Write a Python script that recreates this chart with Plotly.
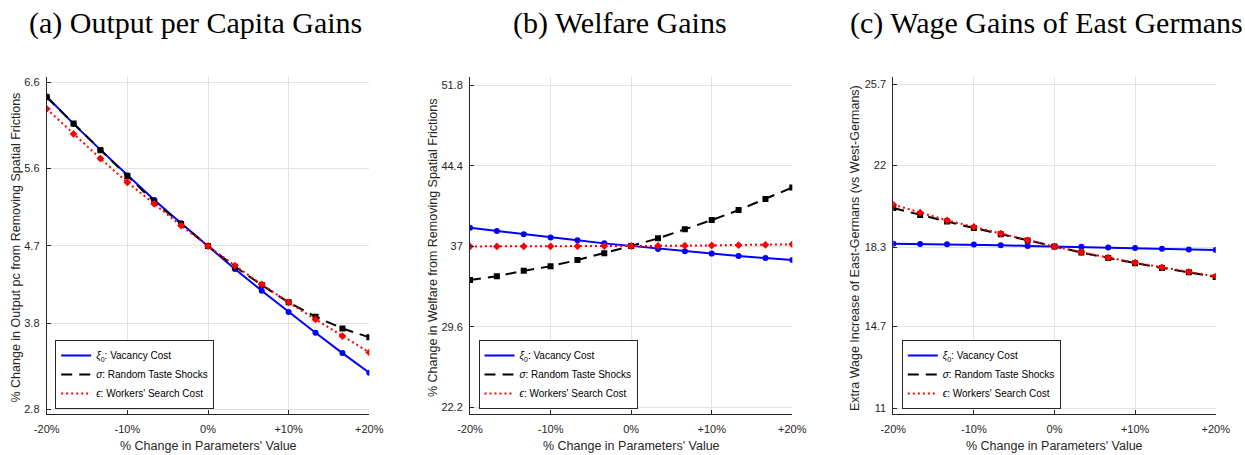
import plotly.graph_objects as go

# Parameter perturbations (% change in parameter value)
pct_change = [-20, -16.667, -13.333, -10, -6.667, -3.333, 0, 3.333, 6.667, 10, 13.333, 16.667, 20]

# (a) Output per capita gains
output_xi0 = [6.437, 6.119, 5.817, 5.522, 5.235, 4.964, 4.70, 4.432, 4.180, 3.932, 3.692, 3.455, 3.227]
output_sigma = [6.429, 6.123, 5.813, 5.514, 5.216, 4.956, 4.70, 4.460, 4.246, 4.045, 3.878, 3.742, 3.638]
output_eps = [6.294, 6.003, 5.716, 5.441, 5.189, 4.937, 4.70, 4.471, 4.254, 4.045, 3.847, 3.653, 3.463]

# (b) Welfare gains
welfare_xi0 = [38.71, 38.41, 38.11, 37.80, 37.55, 37.27, 37.03, 36.76, 36.54, 36.33, 36.11, 35.93, 35.74]
welfare_sigma = [33.91, 34.25, 34.74, 35.17, 35.74, 36.36, 37.03, 37.73, 38.56, 39.41, 40.33, 41.34, 42.41]
welfare_eps = [36.99, 36.99, 37.00, 37.00, 37.01, 37.02, 37.03, 37.04, 37.06, 37.08, 37.10, 37.14, 37.18]

# (c) Wage gains of East Germans
wage_xi0 = [18.46, 18.45, 18.43, 18.42, 18.39, 18.36, 18.33, 18.32, 18.29, 18.26, 18.23, 18.20, 18.17]
wage_sigma = [20.08, 19.76, 19.46, 19.17, 18.89, 18.60, 18.33, 18.06, 17.81, 17.57, 17.36, 17.16, 16.95]
wage_eps = [20.23, 19.87, 19.52, 19.22, 18.92, 18.61, 18.33, 18.07, 17.83, 17.60, 17.39, 17.18, 16.98]

x_tickvals = [-20, -10, 0, 10, 20]
x_ticktext = ["-20%", "-10%", "0%", "+10%", "+20%"]

y_ticks_a = [2.8, 3.8, 4.7, 5.6, 6.6]
y_ticks_b = [22.2, 29.6, 37, 44.4, 51.8]
y_ticks_c = [11, 14.7, 18.3, 22, 25.7]

panel_titles = ["(a) Output per Capita Gains", "(b) Welfare Gains", "(c) Wage Gains of East Germans"]
y_titles = [
    "% Change in Output pc from Removing Spatial Frictions",
    "% Change in Welfare from Removing Spatial Frictions",
    "Extra Wage Increase of East-Germans (vs West-Germans)",
]
x_title = "% Change in Parameters' Value"
series_names = [
    "<i>ξ</i><sub>0</sub>: Vacancy Cost",
    "<i>σ</i>: Random Taste Shocks",
    "<i>ϵ</i>: Workers' Search Cost",
]

W, H = 1245, 455


def fx(p):
    return p / W


def fy(p):
    return 1 - p / H


INK = "#262626"
GRID = "#e3e3e3"
SANS = "Liberation Sans, Arial, sans-serif"
SERIF = "Liberation Serif, Times New Roman, serif"

styles = [
    dict(color="#0000ff", dash="solid", symbol="circle", msize=6),
    dict(color="#000000", dash="11px,7px", symbol="square", msize=6),
    dict(color="#ff0000", dash="2px,3px", symbol="diamond", msize=6),
]

panels = [
    dict(series=[output_xi0, output_sigma, output_eps], yticks=y_ticks_a, yrange=[2.753, 6.67],
         left=46.7, right=369.3),
    dict(series=[welfare_xi0, welfare_sigma, welfare_eps], yticks=y_ticks_b, yrange=[21.62, 52.62],
         left=470.0, right=792.3),
    dict(series=[wage_xi0, wage_sigma, wage_eps], yticks=y_ticks_c, yrange=[10.76, 26.04],
         left=893.3, right=1215.7),
]

plot_top, plot_bottom = 76.5, 413.5

fig = go.Figure()
annotations = []
layout_axes = {}

for i, p in enumerate(panels):
    k = "" if i == 0 else str(i + 1)
    xa, ya = "x" + k, "y" + k
    legend_name = "legend" if i == 0 else "legend" + str(i + 1)

    for vals, st in zip(p["series"], styles):
        fig.add_trace(go.Scatter(
            x=pct_change, y=vals, mode="lines+markers", xaxis=xa, yaxis=ya,
            line=dict(color=st["color"], width=2, dash=st["dash"]),
            marker=dict(symbol=st["symbol"], size=st["msize"], color=st["color"]),
            showlegend=False, hoverinfo="x+y",
        ))
    # legend entries show the line style only
    for name, st in zip(series_names, styles):
        fig.add_trace(go.Scatter(
            x=[None], y=[None], mode="lines", xaxis=xa, yaxis=ya, name=name,
            line=dict(color=st["color"], width=2, dash=st["dash"]),
            legend=legend_name, showlegend=True,
        ))

    layout_axes["xaxis" + k] = dict(
        domain=[fx(p["left"]), fx(p["right"])], anchor=ya, range=[-20, 20],
        tickmode="array", tickvals=x_tickvals, ticktext=x_ticktext,
        showgrid=True, gridcolor=GRID, gridwidth=1, zeroline=False,
        showline=True, linecolor=INK, linewidth=1, ticks="inside", ticklen=4,
        tickcolor=INK, tickfont=dict(family=SANS, size=11, color=INK),
        ticklabelstandoff=5, automargin=False,
    )
    layout_axes["yaxis" + k] = dict(
        domain=[fy(plot_bottom), fy(plot_top)], anchor=xa, range=p["yrange"],
        tickmode="array", tickvals=p["yticks"], ticktext=[f"{v:g}" for v in p["yticks"]],
        showgrid=True, gridcolor=GRID, gridwidth=1, zeroline=False,
        showline=True, linecolor=INK, linewidth=1, ticks="inside", ticklen=4,
        tickcolor=INK, tickfont=dict(family=SANS, size=11, color=INK),
        ticklabelstandoff=4, automargin=False,
    )
    layout_axes[legend_name] = dict(
        x=fx(p["left"] + 8.5), y=fy(409), xanchor="left", yanchor="bottom",
        bgcolor="white", bordercolor=INK, borderwidth=1,
        font=dict(family=SANS, size=10, color="#000000"),
        tracegroupgap=0, itemwidth=30,
    )

title_centers = [195.5, 620, 1046]
ylabel_x = [15.5, 433, 855]
for i, p in enumerate(panels):
    annotations.append(dict(
        text=panel_titles[i], x=fx(title_centers[i]), y=fy(23), xref="paper", yref="paper",
        xanchor="center", yanchor="middle", showarrow=False,
        font=dict(family=SERIF, size=30, color="#000000"),
    ))
    annotations.append(dict(
        text=y_titles[i], x=fx(ylabel_x[i]), y=fy(248), xref="paper", yref="paper",
        xanchor="center", yanchor="middle", textangle=-90, showarrow=False,
        font=dict(family=SANS, size=12.5, color=INK),
    ))
    annotations.append(dict(
        text=x_title, x=fx((p["left"] + p["right"]) / 2), y=fy(445.5), xref="paper", yref="paper",
        xanchor="center", yanchor="middle", showarrow=False,
        font=dict(family=SANS, size=12.5, color=INK),
    ))

fig.update_layout(
    width=W, height=H, margin=dict(l=0, r=0, t=0, b=0, autoexpand=False),
    paper_bgcolor="white", plot_bgcolor="white",
    annotations=annotations, **layout_axes,
)

fig.write_html("out.html")
